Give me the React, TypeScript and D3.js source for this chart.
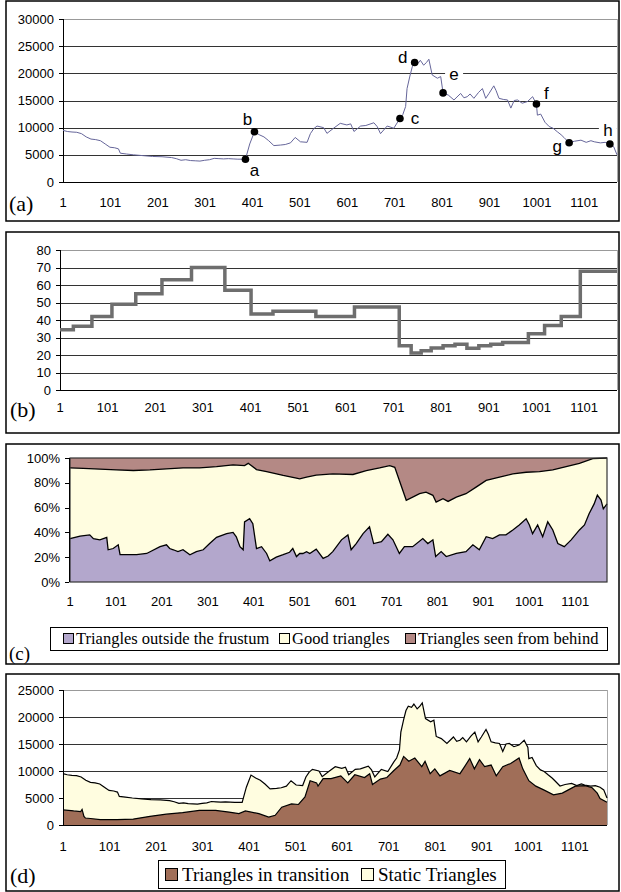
import React from "react";
import * as d3 from "d3";

type Pt = [number, number];

// frame numbers on every x axis
const frameTicks = [1, 101, 201, 301, 401, 501, 601, 701, 801, 901, 1001, 1101];
const lastFrame = 1170;

// (a) total number of triangles per frame  [frame, triangles]
const totalTriangles: Pt[] = [
  [1, 9500], [10, 9300], [20, 9200], [30, 9150], [40, 8900], [50, 8300], [60, 7900], [70, 7800],
  [80, 7600], [90, 7000], [100, 6400], [110, 6300], [118, 6100], [122, 5300], [135, 5150], [150, 5000],
  [170, 4850], [190, 4700], [210, 4650], [230, 4500], [240, 4300], [250, 4000], [260, 4100], [270, 3950],
  [280, 3900], [290, 3850], [300, 4000], [310, 4100], [320, 4350], [330, 4300], [340, 4250], [350, 4300],
  [360, 4250], [370, 4200], [380, 4200], [386, 4200], [395, 7000], [405, 9250], [415, 8700], [425, 8300],
  [435, 7600], [446, 6700], [460, 6800], [470, 6900], [481, 7200], [491, 8200], [502, 7400], [516, 7300],
  [523, 8900], [530, 9800], [537, 10300], [551, 10000], [558, 8950], [572, 9900], [586, 10800], [600, 10500],
  [608, 10700], [615, 9300], [629, 10300], [640, 10400], [657, 10900], [664, 10200], [671, 8900], [685, 10300],
  [699, 9900], [712, 11700], [718, 12400], [724, 13900], [727, 17200], [733, 19500], [738, 21200], [743, 22000],
  [750, 21800], [755, 22400], [762, 21500], [768, 22000], [773, 22600], [780, 19700], [791, 19100], [798, 19400],
  [803, 16400], [814, 16000], [826, 15100], [840, 16300], [847, 15500], [854, 15700], [860, 16200], [868, 15400],
  [878, 16500], [886, 17200], [893, 15400], [900, 16300], [910, 17700], [915, 16800], [921, 15400], [930, 15200],
  [939, 15100], [946, 13600], [953, 15000], [960, 15100], [970, 14500], [981, 14800], [992, 15700], [1000, 14350],
  [1002, 12300], [1009, 12500], [1018, 11000], [1027, 10200], [1035, 9900], [1044, 9250], [1052, 8700], [1058, 8200],
  [1069, 7230], [1080, 7500], [1094, 7700], [1105, 7300], [1115, 7600], [1122, 7400], [1135, 7200], [1145, 7300],
  [1155, 7000], [1163, 6500], [1170, 5000],
];

// (a) labelled key frames
const keyFrameIds = ["a", "b", "c", "d", "e", "f", "g", "h"];
const keyFrames = [386, 405, 712, 743, 803, 1000, 1069, 1155];

// (b) step series: value held from each start frame
const stepStarts = [1, 29, 68, 110, 160, 215, 277, 347, 402, 448, 538, 619, 713, 738, 759, 780, 805, 830, 855, 880, 905, 930, 984, 1018, 1053, 1093];
const stepValues = [34.5, 36.5, 42, 49, 55, 63, 70, 57, 43.5, 45, 42, 47.5, 25.3, 21.2, 22.5, 24, 25.3, 26.2, 23.8, 25.3, 26.2, 27.2, 32.2, 36.9, 42, 67.8];

// (c) percentages: top of "outside the frustum", top of "good triangles"
const outsidePct: Pt[] = [
  [1, 35], [23, 37], [44, 38], [52, 35], [66, 34], [81, 36], [84, 26], [95, 27], [106, 30], [110, 22],
  [124, 22], [146, 22], [168, 23], [197, 28.5], [211, 30], [218, 27], [226, 26], [236, 24.5], [247, 26], [262, 22],
  [276, 24.5], [291, 26], [305, 31], [320, 36], [342, 39], [356, 40], [363, 36.5], [371, 28.5], [378, 26], [381, 48.5],
  [392, 51], [399, 47], [407, 27], [418, 28.5], [429, 23], [436, 17], [450, 20], [465, 22], [479, 24], [486, 27],
  [494, 20.5], [501, 23], [508, 23], [516, 24.5], [523, 23], [537, 26.5], [552, 19], [563, 21], [573, 24.5], [592, 34],
  [606, 38], [613, 26], [624, 31], [639, 39], [653, 44.5], [662, 31], [679, 32.5], [693, 38.5], [704, 34], [718, 23],
  [729, 28.5], [747, 28.5], [769, 35], [780, 31], [791, 34], [797, 20.5], [809, 24.5], [820, 20.5], [842, 23], [863, 24.5],
  [878, 30], [892, 26], [907, 36.5], [921, 35], [936, 38], [950, 38], [965, 42], [979, 46], [994, 51], [1001, 46],
  [1008, 39], [1019, 46], [1030, 36.5], [1041, 48.5], [1052, 42], [1063, 31], [1077, 28.5], [1092, 34], [1110, 42], [1121, 46],
  [1131, 55], [1142, 63], [1149, 70], [1157, 66], [1162, 59], [1170, 63],
];
const goodTopPct: Pt[] = [
  [1, 92], [30, 91.7], [66, 91], [102, 90.4], [139, 89.9], [175, 90.4], [211, 91.2], [247, 92], [283, 92], [320, 93],
  [356, 94.4], [381, 93.9], [389, 95.7], [407, 90.7], [429, 89], [465, 85.9], [494, 83.7], [501, 83.2], [516, 84.5], [537, 86.2],
  [573, 87.2], [617, 86.7], [646, 89.9], [675, 92], [697, 93.9], [708, 92.5], [718, 81.9], [733, 65.9], [747, 68.5], [762, 71.2],
  [776, 72.5], [791, 69.9], [798, 64.5], [813, 67.2], [824, 65], [842, 68.5], [863, 71.2], [885, 76.5], [907, 81.9], [936, 84.5],
  [965, 87.2], [994, 88.5], [1023, 89], [1052, 90.4], [1081, 93], [1110, 95.7], [1139, 99.5], [1170, 100],
];

// (d) triangles in transition (static = total - transition)
const transitionTriangles: Pt[] = [
  [1, 2800], [24, 2600], [39, 2500], [42, 2900], [46, 1600], [49, 1300], [60, 1200], [81, 1000], [117, 1000], [152, 1100],
  [188, 1600], [223, 2000], [258, 2300], [294, 2700], [329, 2700], [358, 2400], [379, 2100], [393, 2600], [422, 2100], [443, 1450],
  [457, 1800], [471, 3300], [492, 3900], [507, 3800], [521, 5200], [532, 8200], [546, 7800], [549, 7200], [560, 8600], [577, 8600],
  [598, 9100], [613, 7800], [628, 9300], [649, 8800], [660, 9500], [666, 7500], [683, 8500], [697, 8800], [712, 10100], [725, 11100],
  [733, 12700], [744, 11800], [757, 12400], [772, 10800], [779, 11800], [790, 9500], [800, 10400], [811, 9100], [832, 10100], [854, 9500],
  [864, 10800], [875, 12300], [885, 10400], [896, 12100], [907, 10800], [921, 11100], [932, 9100], [946, 10800], [963, 11400], [981, 12400],
  [989, 10400], [1002, 8200], [1017, 7200], [1034, 6500], [1055, 5600], [1074, 5900], [1087, 6500], [1102, 7200], [1123, 7300], [1138, 6900],
  [1149, 5900], [1155, 4900], [1170, 4200],
];

const countTicksA = [0, 5000, 10000, 15000, 20000, 25000, 30000];
const ticksB = [0, 10, 20, 30, 40, 50, 60, 70, 80];
const pctTicks = [0, 20, 40, 60, 80, 100];
const countTicksD = [0, 5000, 10000, 15000, 20000, 25000];

const legendC = ["Triangles outside the frustum", "Good triangles", "Triangles seen from behind"];
const legendD = ["Triangles in transition", "Static Triangles"];

const SANS = "Arial, 'Liberation Sans', sans-serif";
const SERIF = "'Times New Roman', 'Liberation Serif', serif";
const PURPLE = "#b3a7cc";
const CREAM = "#fffde0";
const MAUVE = "#b48985";
const BROWN = "#a06e58";

const crisp = (v: number) => Math.round(v) + 0.5;

function YAxis({ y, x, top, ticks, fmt }: { y: d3.ScaleLinear<number, number>; x: number; top: number; ticks: number[]; fmt: (v: number) => string }) {
  return (
    <g>
      <line x1={crisp(x)} x2={crisp(x)} y1={top} y2={y(0)} stroke="#000" />
      {ticks.map(t => (
        <g key={t}>
          <line x1={x - 4} x2={x} y1={crisp(y(t))} y2={crisp(y(t))} stroke="#000" />
          <text x={x - 9} y={y(t)} textAnchor="end" dominantBaseline="central" fontSize={13} fontFamily={SANS}>{fmt(t)}</text>
        </g>
      ))}
    </g>
  );
}

function XLabels({ x, y }: { x: d3.ScaleLinear<number, number>; y: number }) {
  return (
    <g>
      {frameTicks.map(f => (
        <text key={f} x={x(f)} y={y} textAnchor="middle" dominantBaseline="central" fontSize={13} fontFamily={SANS}>{f}</text>
      ))}
    </g>
  );
}

function Gridlines({ x, y, ticks, color = "#333" }: { x: d3.ScaleLinear<number, number>; y: d3.ScaleLinear<number, number>; ticks: number[]; color?: string }) {
  const [x0, x1] = x.range();
  return (
    <g>
      {ticks.map(t => (
        <line key={t} x1={x0} x2={x1} y1={crisp(y(t))} y2={crisp(y(t))} stroke={color} />
      ))}
    </g>
  );
}

const labelOffset: Record<string, Pt> = {
  a: [9, 11], b: [-7, -12], c: [15, 0], d: [-12, -5], e: [11, -18], f: [10, -11], g: [-12, 4], h: [-2, -13],
};
const boxedLabels = ["e", "h"];

export default function App() {
  // panel (a)
  const ax = d3.scaleLinear().domain([1, lastFrame]).range([63, 617]);
  const ay = d3.scaleLinear().domain([0, 30000]).range([182, 19]);
  const aLine = d3.line<Pt>().x(d => ax(d[0])).y(d => ay(d[1]));

  // panel (b)
  const bx = d3.scaleLinear().domain([1, lastFrame]).range([60, 617]);
  const by = d3.scaleLinear().domain([0, 80]).range([390, 250]);
  const stepPts: Pt[] = stepStarts.map((s, i) => [s, stepValues[i]] as Pt);
  stepPts.push([lastFrame, stepValues[stepValues.length - 1]]);
  const bLine = d3.line<Pt>().x(d => bx(d[0])).y(d => by(d[1])).curve(d3.curveStepAfter);

  // panel (c)
  const cx = d3.scaleLinear().domain([1, lastFrame]).range([70, 607]);
  const cy = d3.scaleLinear().domain([0, 100]).range([582, 458]);
  const cFromZero = d3.area<Pt>().x(d => cx(d[0])).y0(cy(0)).y1(d => cy(d[1]));
  const cFromTop = d3.area<Pt>().x(d => cx(d[0])).y0(cy(100)).y1(d => cy(d[1]));
  const cLine = d3.line<Pt>().x(d => cx(d[0])).y(d => cy(d[1]));

  // panel (d)
  const dx = d3.scaleLinear().domain([1, lastFrame]).range([63, 607]);
  const dy = d3.scaleLinear().domain([0, 25000]).range([825, 690]);
  const dArea = d3.area<Pt>().x(d => dx(d[0])).y0(dy(0)).y1(d => dy(d[1]));
  const dLine = d3.line<Pt>().x(d => dx(d[0])).y(d => dy(d[1]));

  const valueAt = (f: number) => (totalTriangles.find(d => d[0] === f) || [f, 0])[1];
  const pct = (v: number) => `${v}%`;
  const plain = (v: number) => `${v}`;

  return (
    <svg width={621} height={892} style={{ position: "absolute", left: 0, top: 0, background: "#fff" }}>
      {/* ---------- (a) ---------- */}
      <rect x={6} y={1} width={613} height={220} fill="none" stroke="#000" strokeWidth={1.5} />
      <Gridlines x={ax} y={ay} ticks={countTicksA.slice(1, -1)} />
      <line x1={ax.range()[0]} x2={617} y1={crisp(ay(30000))} y2={crisp(ay(30000))} stroke="#999" />
      <line x1={crisp(617)} x2={crisp(617)} y1={ay(30000)} y2={ay(0)} stroke="#aaa" />
      <YAxis y={ay} x={63} top={ay(30000)} ticks={countTicksA} fmt={plain} />
      <line x1={63} x2={617} y1={crisp(ay(0))} y2={crisp(ay(0))} stroke="#000" />
      <path d={aLine(totalTriangles) || ""} fill="none" stroke="#66669a" strokeWidth={1} />
      {keyFrames.map((f, i) => {
        const id = keyFrameIds[i];
        const px = ax(f), py = ay(valueAt(f));
        const [ox, oy] = labelOffset[id];
        return (
          <g key={id}>
            <circle cx={px} cy={py} r={3.8} fill="#000" />
            {boxedLabels.includes(id) && (
              <rect x={px + ox - 9} y={py + oy - 7} width={18} height={14} fill="#fff" />
            )}
            <text x={px + ox} y={py + oy} textAnchor="middle" dominantBaseline="central" fontSize={17} fontFamily={SANS}>{id}</text>
          </g>
        );
      })}
      <XLabels x={ax} y={202} />
      <text x={9} y={203} dominantBaseline="central" fontSize={22} fontFamily={SERIF}>(a)</text>

      {/* ---------- (b) ---------- */}
      <rect x={6} y={232} width={613} height={201} fill="none" stroke="#000" strokeWidth={1.5} />
      <Gridlines x={bx} y={by} ticks={ticksB.slice(1, -1)} />
      <line x1={60} x2={617} y1={crisp(by(80))} y2={crisp(by(80))} stroke="#999" />
      <line x1={crisp(617)} x2={crisp(617)} y1={by(80)} y2={by(0)} stroke="#aaa" />
      <YAxis y={by} x={60} top={by(80)} ticks={ticksB} fmt={plain} />
      <line x1={60} x2={617} y1={crisp(by(0))} y2={crisp(by(0))} stroke="#000" />
      <path d={bLine(stepPts) || ""} fill="none" stroke="#6e6e6e" strokeWidth={3.5} />
      <XLabels x={bx} y={407} />
      <text x={10} y={409} dominantBaseline="central" fontSize={22} fontFamily={SERIF}>(b)</text>

      {/* ---------- (c) ---------- */}
      <rect x={6} y={444} width={613} height={220} fill="none" stroke="#000" strokeWidth={1.5} />
      <path d={cFromZero(goodTopPct) || ""} fill={CREAM} />
      <path d={cFromTop(goodTopPct) || ""} fill={MAUVE} />
      <path d={cFromZero(outsidePct) || ""} fill={PURPLE} />
      <path d={cLine(goodTopPct) || ""} fill="none" stroke="#000" strokeWidth={1.3} />
      <path d={cLine(outsidePct) || ""} fill="none" stroke="#000" strokeWidth={1.3} />
      <rect x={70} y={cy(100)} width={537} height={cy(0) - cy(100)} fill="none" stroke="#333" strokeWidth={1.2} />
      <YAxis y={cy} x={69} top={cy(100)} ticks={pctTicks} fmt={pct} />
      <XLabels x={cx} y={601} />
      <rect x={50.5} y={627.5} width={557} height={23} fill="#fff" stroke="#000" />
      {legendC.map((name, i) => {
        const sx = [63, 279, 405][i];
        return (
          <g key={name}>
            <rect x={sx + 0.5} y={633.5} width={10} height={10} fill={[PURPLE, CREAM, MAUVE][i]} stroke="#000" />
            <text x={sx + 13} y={644} fontSize={16.5} fontFamily={SERIF}>{name}</text>
          </g>
        );
      })}
      <text x={9} y={653} dominantBaseline="central" fontSize={19} fontFamily={SERIF}>(c)</text>

      {/* ---------- (d) ---------- */}
      <rect x={6} y={674} width={613} height={217} fill="none" stroke="#000" strokeWidth={1.5} />
      <Gridlines x={dx} y={dy} ticks={countTicksD.slice(1, -1)} />
      <line x1={63} x2={607} y1={crisp(dy(25000))} y2={crisp(dy(25000))} stroke="#999" />
      <line x1={crisp(607)} x2={crisp(607)} y1={dy(25000)} y2={dy(0)} stroke="#aaa" />
      <path d={dArea(totalTriangles) || ""} fill={CREAM} />
      <path d={dArea(transitionTriangles) || ""} fill={BROWN} />
      <path d={dLine(totalTriangles) || ""} fill="none" stroke="#000" strokeWidth={1.2} />
      <path d={dLine(transitionTriangles) || ""} fill="none" stroke="#000" strokeWidth={1.2} />
      <YAxis y={dy} x={63} top={dy(25000)} ticks={countTicksD} fmt={plain} />
      <line x1={63} x2={607} y1={crisp(dy(0))} y2={crisp(dy(0))} stroke="#000" />
      <XLabels x={dx} y={846} />
      <rect x={158.5} y={860.5} width={347} height={28} fill="#fff" stroke="#000" />
      {legendD.map((name, i) => {
        const sx = [165, 361][i];
        return (
          <g key={name}>
            <rect x={sx + 0.5} y={868.5} width={12} height={12} fill={[BROWN, CREAM][i]} stroke="#000" />
            <text x={sx + 17} y={881} fontSize={19} fontFamily={SERIF}>{name}</text>
          </g>
        );
      })}
      <text x={10} y={875} dominantBaseline="central" fontSize={22} fontFamily={SERIF}>(d)</text>
    </svg>
  );
}
